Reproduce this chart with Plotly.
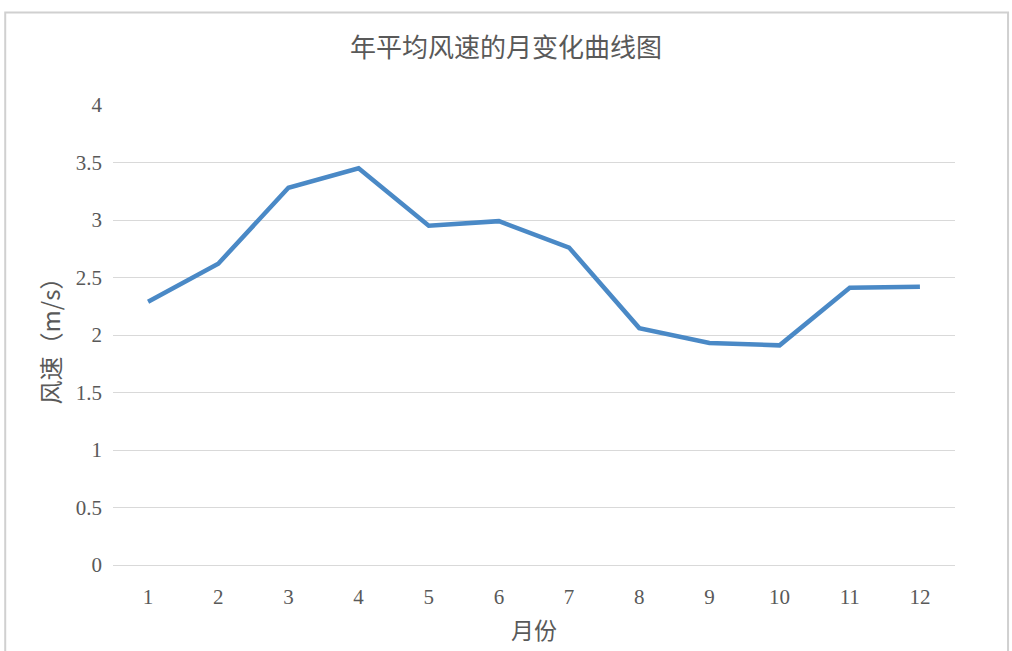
import plotly.graph_objects as go

# Monthly mean wind speed (m/s)
months = ["1", "2", "3", "4", "5", "6", "7", "8", "9", "10", "11", "12"]
wind_speed = [2.29, 2.62, 3.28, 3.45, 2.95, 2.99, 2.76, 2.06, 1.93, 1.91, 2.41, 2.42]
y_ticks = [0, 0.5, 1, 1.5, 2, 2.5, 3, 3.5, 4]
y_tick_text = ["0", "0.5", "1", "1.5", "2", "2.5", "3", "3.5", "4"]

serif = "Liberation Serif, Times New Roman, serif"
cjk = "Noto Sans CJK SC, sans-serif"
text_grey = "#595959"

fig = go.Figure()
fig.add_trace(go.Scatter(
    x=months,
    y=wind_speed,
    mode="lines",
    line=dict(color="#4a89c6", width=4.5),
    hoverinfo="x+y",
))

fig.update_layout(
    width=1012,
    height=651,
    paper_bgcolor="white",
    plot_bgcolor="white",
    showlegend=False,
    margin=dict(l=113, r=57, t=105, b=84),
    title=dict(
        text="年平均风速的月变化曲线图",
        x=0.5,
        xanchor="center",
        y=0.927,
        yanchor="middle",
        font=dict(family=cjk, size=26, color=text_grey),
    ),
    xaxis=dict(
        type="category",
        range=[-0.5, 11.5],
        showgrid=False,
        zeroline=False,
        showline=False,
        ticks="",
        tickfont=dict(family=serif, size=21, color=text_grey),
        ticklabelstandoff=17,
        title=dict(text="月份", font=dict(family=cjk, size=23, color=text_grey), standoff=14),
    ),
    yaxis=dict(
        range=[0, 4],
        tickvals=y_ticks,
        ticktext=y_tick_text,
        showgrid=True,
        gridcolor="#d9d9d9",
        gridwidth=1,
        zeroline=True,
        zerolinecolor="#d9d9d9",
        zerolinewidth=1,
        showline=False,
        ticks="",
        tickfont=dict(family=serif, size=21, color=text_grey),
        ticklabelstandoff=10,
        title=dict(text="风速（m/s）", font=dict(family=cjk, size=24, color=text_grey), standoff=8),
    ),
)

# Light frame around the chart area
fig.add_shape(
    type="rect",
    xref="paper", yref="paper",
    x0=-0.128, x1=1.063, y0=-0.25, y1=1.201,
    line=dict(color="#d0d0d0", width=2),
    fillcolor="rgba(0,0,0,0)",
    layer="below",
)

fig.write_html("out.html")
